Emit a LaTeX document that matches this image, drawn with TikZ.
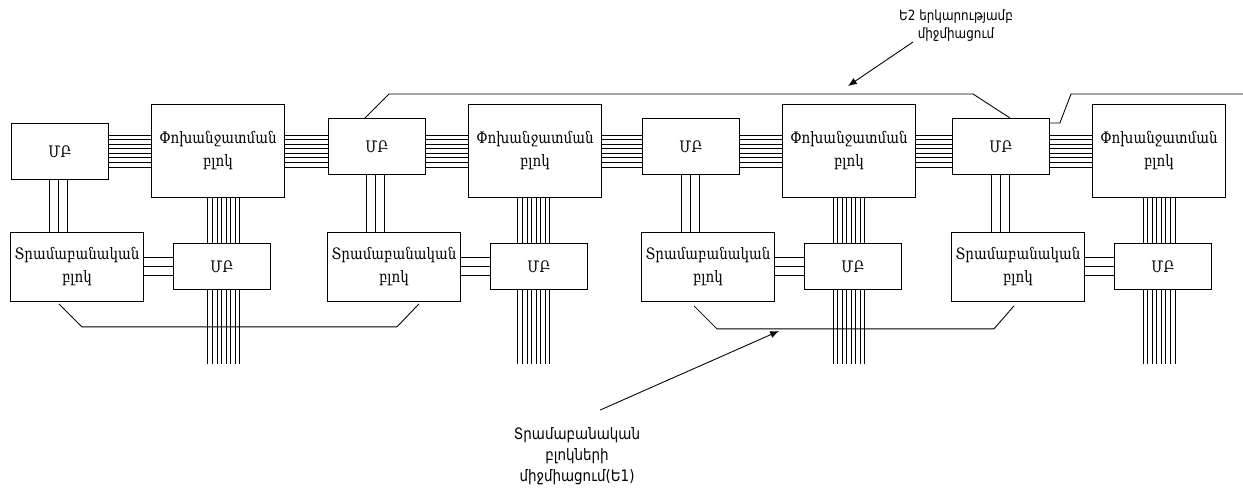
\documentclass[tikz,border=0pt]{standalone}
\usepackage{fontspec}
\setmainfont[FakeStretch=0.85]{DejaVu Serif}
\newfontfamily\notefont[FakeStretch=0.85]{DejaVu Sans}
\usepackage{tikz}
\usetikzlibrary{arrows.meta,calc}
\tikzset{
  every node/.style={font=\fontsize{9}{13}\selectfont},
  mbbox/.style={draw, rectangle, align=center, inner sep=0pt, minimum width=1.94cm, minimum height=1.12cm, fill=white},
  mbsmall/.style={draw, rectangle, align=center, inner sep=0pt, minimum width=1.94cm, minimum height=0.92cm, fill=white},
  swbox/.style={draw, rectangle, align=center, inner sep=0pt, minimum width=2.66cm, minimum height=1.86cm, fill=white},
  logicbox/.style={draw, rectangle, align=center, inner sep=0pt, minimum width=2.66cm, minimum height=1.38cm, fill=white},
  note/.style={align=center, inner sep=1pt, font=\notefont\fontsize{9}{12}\selectfont},
  arrow/.style={-{Latex[length=5pt,width=4pt]}}
}

\begin{document}
\begin{tikzpicture}[x=0.02cm, y=-0.02cm, line width=0.5pt]
\useasboundingbox (0,0) rectangle (1243,488);

% Four repeated groups: MB, switching block, logic block, lower MB
\foreach \i/\gx/\dy in {1/0/5, 2/317/0, 3/631/0, 4/941/0} {
  \node[mbbox, anchor=north west] (mbt\i) at (11+\gx, 118+\dy) {ՄԲ};
  \node[swbox, anchor=north west] (sw\i) at (151+\gx, 104) {Փոխանջատման\\բլոկ};
  \node[logicbox, anchor=north west] (lg\i) at (10+\gx, 232) {Տրամաբանական\\բլոկ};
  \node[mbsmall, anchor=north west] (mbb\i) at (173+\gx, 243) {ՄԲ};
  \coordinate (end\i) at ($(sw\i.south)+(0,166)$);
}

% Horizontal buses (8 lines) MB -> switching block
\foreach \i in {1,...,4} {
  \foreach \k [evaluate=\k as \yy using 135+\k*4.571] in {0,...,7}
    \draw (mbt\i.east |- 0,\yy) -- (sw\i.west |- 0,\yy);
}
% switching block -> next MB
\foreach \i/\j in {1/2, 2/3, 3/4} {
  \foreach \k [evaluate=\k as \yy using 135+\k*4.571] in {0,...,7}
    \draw (sw\i.east |- 0,\yy) -- (mbt\j.west |- 0,\yy);
}

% MB -> logic block (3 lines)
\foreach \i in {1,...,4} {
  \foreach \dx in {-10,-1,8}
    \draw ([xshift=\dx*0.02cm]mbt\i.south) -- ([xshift=\dx*0.02cm]mbt\i.south |- lg\i.north);
}

% logic block -> lower MB (3 lines)
\foreach \i in {1,...,4} {
  \foreach \dy in {-9,0,9}
    \draw ([yshift=\dy*0.02cm]lg\i.east |- mbb\i.west) -- ([yshift=\dy*0.02cm]mbb\i.west);
}

% switching block down past lower MB (8 lines)
\foreach \i/\off in {1/6, 2/-1, 3/0, 4/0} {
  \foreach \k [evaluate=\k as \dx using (\off-16+\k*4.571)*0.02] in {0,...,7} {
    \draw ([xshift=\dx cm]sw\i.south) -- ([xshift=\dx cm]sw\i.south |- mbb\i.north);
    \draw ([xshift=\dx cm]sw\i.south |- mbb\i.south) -- ([xshift=\dx cm]end\i);
  }
}

% E2 long link
\coordinate (e2a) at (389,94);
\coordinate (e2b) at (973,94);
\coordinate (e2c) at (1071,94);
\coordinate (e2d) at (1243,94);
\draw ([xshift=0.74cm]mbt2.north west) -- (e2a) -- (e2b) -- ([xshift=1.16cm]mbt4.north west);
\draw ([yshift=-0.1cm]mbt4.north east) -- ++(10,0) -- (e2c) -- (e2d);

% E1 links between logic blocks
\draw ([xshift=0.98cm,yshift=-0.04cm]lg1.south west) -- ++(23,23) -- ++(315,0) -- ([xshift=1.84cm,yshift=-0.04cm]lg2.south west);
\draw ([xshift=1.06cm,yshift=-0.08cm]lg3.south west) -- ++(23,23) -- ++(277,0) -- ([xshift=1.26cm,yshift=-0.08cm]lg4.south west);

% Notes
\node[note] (noteA) at (577,456) {Տրամաբանական\\բլոկների\\միջմիացում(Ե1)};
\node[note, font=\notefont\fontsize{8}{10.2}\selectfont] (noteB) at (956,26) {Ե2 երկարությամբ\\միջմիացում};
\coordinate (tipA) at (779,331);
\coordinate (tipB) at (848,86);
\draw[arrow] ([xshift=0.46cm,yshift=0.3cm]noteA.north) -- (tipA);
\draw[arrow] ([xshift=-0.86cm,yshift=-0.32cm]noteB.center) -- (tipB);

\end{tikzpicture}
\end{document}
